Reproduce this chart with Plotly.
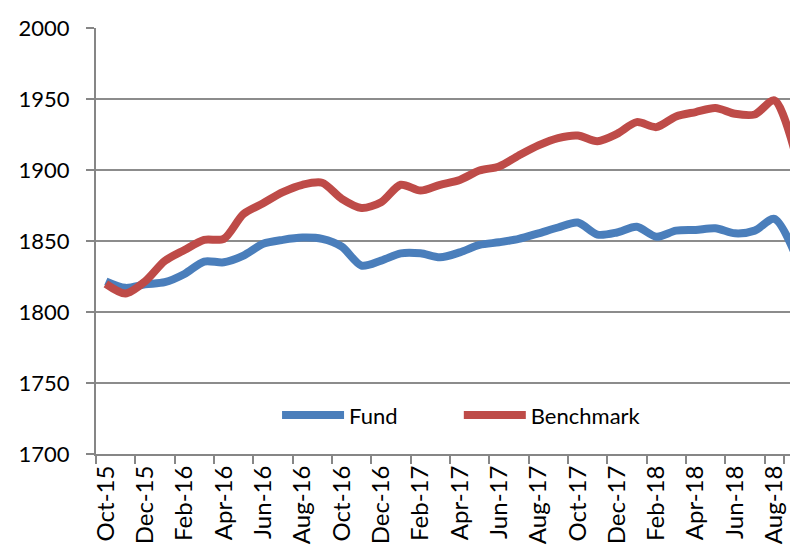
import plotly.graph_objects as go

months = ["Oct-15", "Nov-15", "Dec-15", "Jan-16", "Feb-16", "Mar-16", "Apr-16", "May-16",
          "Jun-16", "Jul-16", "Aug-16", "Sep-16", "Oct-16", "Nov-16", "Dec-16", "Jan-17",
          "Feb-17", "Mar-17", "Apr-17", "May-17", "Jun-17", "Jul-17", "Aug-17", "Sep-17",
          "Oct-17", "Nov-17", "Dec-17", "Jan-18", "Feb-18", "Mar-18", "Apr-18", "May-18",
          "Jun-18", "Jul-18", "Aug-18", "Sep-18"]

fund = [1821.6, 1817.0, 1819.5, 1821.0, 1826.8, 1835.5, 1835.0, 1839.7,
        1848.0, 1850.8, 1852.4, 1851.5, 1846.0, 1832.7, 1836.2, 1841.3,
        1841.3, 1838.5, 1842.0, 1847.2, 1849.1, 1851.5, 1855.4, 1859.5,
        1863.0, 1854.5, 1856.0, 1860.0, 1853.0, 1857.3, 1857.8, 1859.0,
        1855.4, 1857.3, 1865.6, 1842.7]

benchmark = [1819.8, 1813.0, 1821.6, 1836.0, 1843.7, 1850.8, 1851.5, 1869.0,
             1876.6, 1884.4, 1889.6, 1891.0, 1879.7, 1873.3, 1877.3, 1889.6,
             1885.5, 1889.6, 1893.0, 1899.6, 1902.5, 1910.2, 1917.3, 1922.5,
             1924.3, 1920.3, 1925.5, 1933.7, 1930.2, 1937.7, 1940.8, 1943.6,
             1939.6, 1939.1, 1949.0, 1915.0]

y_ticks = [1700, 1750, 1800, 1850, 1900, 1950, 2000]

FONT = "Lato"
fig = go.Figure()
fig.add_trace(go.Scatter(x=months, y=fund, name="Fund", mode="lines", legend="legend",
                         line=dict(color="#4A7EBB", width=8, shape="spline", smoothing=0.8)))
fig.add_trace(go.Scatter(x=months, y=benchmark, name="Benchmark", mode="lines", legend="legend2",
                         line=dict(color="#BE4B48", width=8, shape="spline", smoothing=0.8)))

leg_common = dict(orientation="h", yanchor="middle", xanchor="left",
                  bgcolor="rgba(0,0,0,0)", itemwidth=62,
                  font=dict(family=FONT, size=22, color="black"))

fig.update_layout(
    width=798, height=546,
    margin=dict(l=88, r=0, t=20, b=100),
    plot_bgcolor="white", paper_bgcolor="white",
    font=dict(family=FONT, size=22, color="black"),
    showlegend=True,
    legend=dict(x=0.255, y=0.091, **leg_common),
    legend2=dict(x=0.511, y=0.091, **leg_common),
    xaxis=dict(type="category", range=[-0.5, 35.61], automargin=False,
               tickmode="array", tickvals=months[::2], ticktext=months[::2],
               tickson="boundaries", ticks="outside", ticklen=8, tickwidth=2,
               tickcolor="#868686", tickangle=-90, showgrid=False,
               showline=True, linecolor="#868686", linewidth=2,
               tickfont=dict(family=FONT, size=24, color="black")),
    yaxis=dict(range=[1700, 2000], tickmode="array", tickvals=y_ticks, automargin=False,
               ticks="outside", ticklen=8, tickwidth=2, tickcolor="#868686",
               showgrid=True, gridcolor="#8C8C8C", gridwidth=2,
               showline=True, linecolor="#868686", linewidth=2,
               zeroline=False, ticklabelstandoff=12,
               tickfont=dict(family=FONT, size=22, color="black")),
)

fig.write_html("out.html")
